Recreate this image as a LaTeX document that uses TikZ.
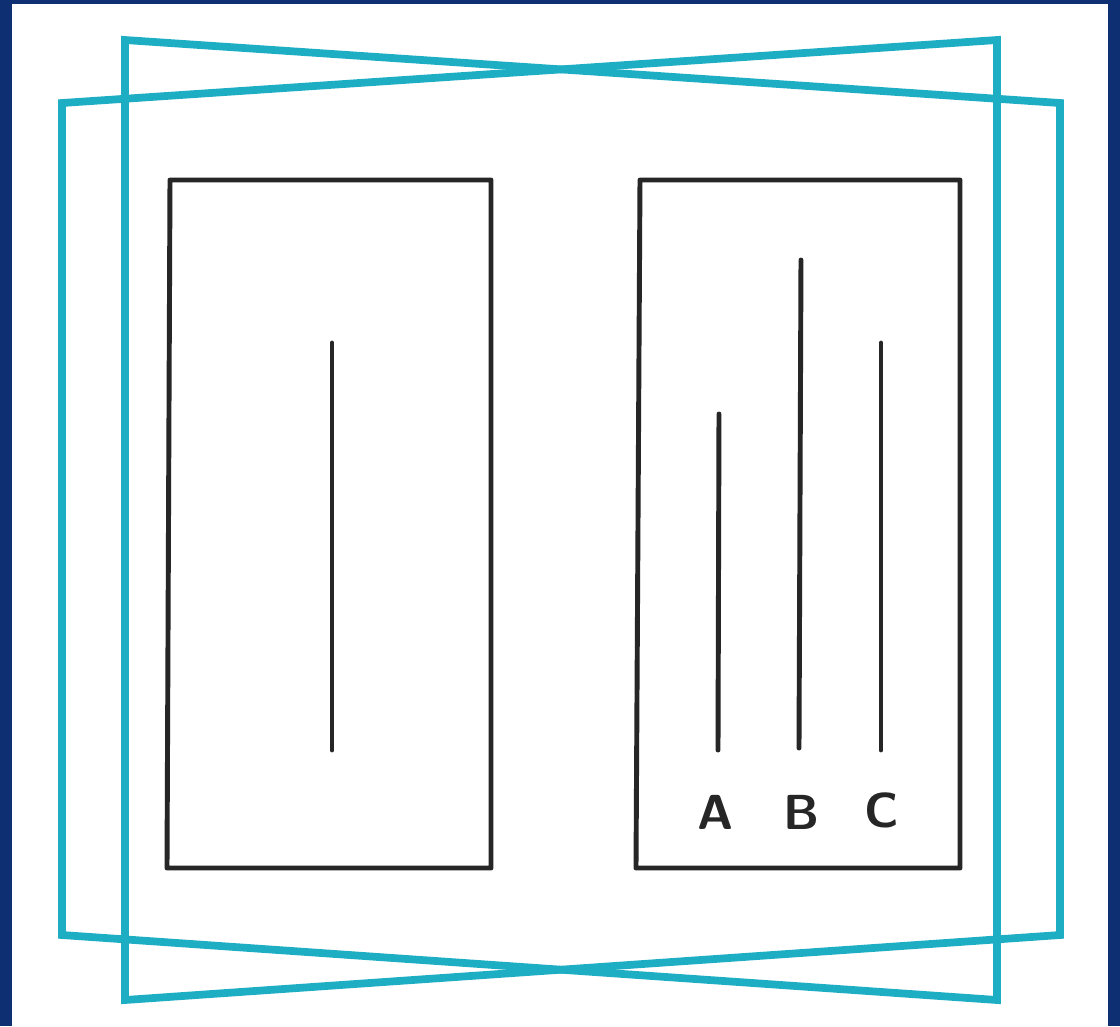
\documentclass[tikz,border=0pt]{standalone}
\usepackage{tikz}
\usepackage{xcolor}
\definecolor{frameteal}{HTML}{1DAEC3}
\definecolor{smokeblue}{HTML}{0E2F72}
\definecolor{inkblack}{HTML}{262626}

\begin{document}
\begin{tikzpicture}[x=0.01cm, y=-0.01cm, every node/.style={font=\fontsize{14}{16}\selectfont\sffamily\bfseries, text=inkblack}]
  % background and sheet
  \fill[smokeblue] (0,0) rectangle (1120,1026);
  \fill[white] (12,4) rectangle (1108,1026);
  \useasboundingbox (0,0) rectangle (1120,1026);
  % the two crossed frames
  \draw[frameteal, line width=2.2pt, line join=miter] (125,40) -- (1060,103) -- (1060,935) -- (125,1000) -- cycle;
  \draw[frameteal, line width=2.2pt, line join=miter] (997,40) -- (62,103) -- (62,935) -- (997,1000) -- cycle;
  % left card
  \draw[inkblack, line width=1.4pt, line join=round] (170,180) -- (491,180) -- (491,868) -- (167,868) -- cycle;
  \draw[inkblack, line width=1.4pt, line cap=round] (332,343) -- (332,750);
  % right card
  \draw[inkblack, line width=1.4pt, line join=round] (640,180) -- (960,180) -- (960,868) -- (636,868) -- cycle;
  \draw[inkblack, line width=1.4pt, line cap=round] (719,414) -- (718,750);
  \draw[inkblack, line width=1.4pt, line cap=round] (801,260) -- (799,748);
  \draw[inkblack, line width=1.4pt, line cap=round] (881,343) -- (881,750);
  \node (labA) at (716,812) {A};
  \node (labB) at (802,812) {B};
  \node (labC) at (882,810) {C};
\end{tikzpicture}
\end{document}
